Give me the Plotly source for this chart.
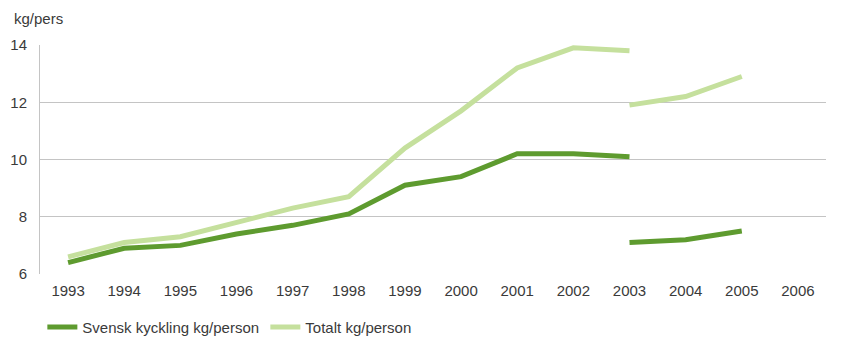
import plotly.graph_objects as go

years_a = [1993, 1994, 1995, 1996, 1997, 1998, 1999, 2000, 2001, 2002, 2003]
years_b = [2003, 2004, 2005]
svensk_a = [6.4, 6.9, 7.0, 7.4, 7.7, 8.1, 9.1, 9.4, 10.2, 10.2, 10.1]
svensk_b = [7.1, 7.2, 7.5]
totalt_a = [6.6, 7.1, 7.3, 7.8, 8.3, 8.7, 10.4, 11.7, 13.2, 13.9, 13.8]
totalt_b = [11.9, 12.2, 12.9]
tick_years = list(range(1993, 2007))

dark = '#5E9B2F'
light = '#C5E09D'
txt = '#3A3A3A'
font = 'Liberation Sans, Arial, sans-serif'

fig = go.Figure()
fig.add_trace(go.Scatter(x=years_a, y=svensk_a, mode='lines', name='Svensk kyckling kg/person',
                         line=dict(color=dark, width=5), legendgroup='s'))
fig.add_trace(go.Scatter(x=years_a, y=totalt_a, mode='lines', name='Totalt kg/person',
                         line=dict(color=light, width=5), legendgroup='t'))
fig.add_trace(go.Scatter(x=years_b, y=svensk_b, mode='lines', showlegend=False,
                         line=dict(color=dark, width=5), legendgroup='s'))
fig.add_trace(go.Scatter(x=years_b, y=totalt_b, mode='lines', showlegend=False,
                         line=dict(color=light, width=5), legendgroup='t'))

# page has an 8px body margin, so the figure is sized/margined to compensate
fig.update_layout(
    width=833, height=329,
    margin=dict(l=32, r=15, t=37, b=63, autoexpand=False),
    paper_bgcolor='white', plot_bgcolor='white',
    font=dict(family=font, size=15, color=txt),
    xaxis=dict(range=[1992.5, 2006.5], tickmode='array', tickvals=tick_years,
               showgrid=False, zeroline=False, showline=False, ticks='outside',
               ticklen=3, tickcolor='rgba(0,0,0,0)',
               tickfont=dict(size=15, color=txt)),
    yaxis=dict(range=[6, 14], tickvals=[6, 8, 10, 12, 14], showgrid=True,
               gridcolor='#C4C4C4', gridwidth=1, zeroline=False,
               showline=True, linecolor='#C4C4C4', linewidth=1, ticks='outside',
               ticklen=9, tickcolor='rgba(0,0,0,0)',
               tickfont=dict(size=15, color=txt)),
    legend=dict(orientation='h', x=0.003, xanchor='left', y=-0.16, yanchor='top',
                font=dict(size=15, color=txt), entrywidth=178, entrywidthmode='pixels'),
    annotations=[dict(text='kg/pers', xref='paper', yref='paper', x=-0.036, y=1.0,
                      yshift=27, xanchor='left', yanchor='middle', showarrow=False,
                      font=dict(size=15, color=txt))],
)

fig.write_html('out.html')
